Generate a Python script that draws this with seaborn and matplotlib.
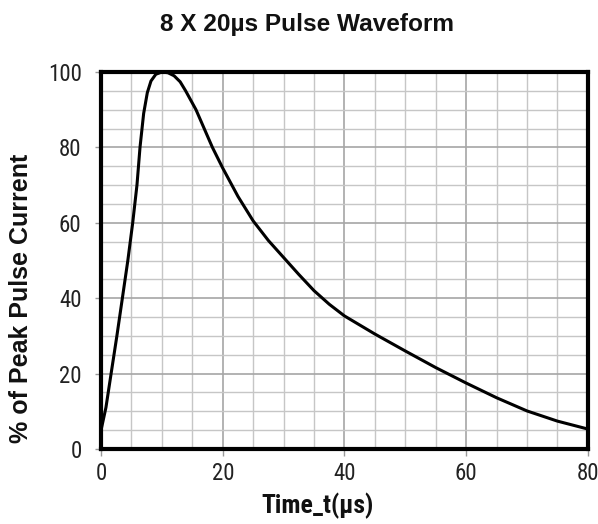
import matplotlib
matplotlib.use("Agg")
import matplotlib.pyplot as plt
from matplotlib.ticker import MultipleLocator
from matplotlib import font_manager as fm
import seaborn as sns
import pandas as pd

# Data
time_us = [0, 0.8, 1.65, 2.6, 3.5, 4.4, 5.2, 5.9, 6.4, 7.0, 7.6, 8.2, 9.0, 10.0,
           11.0, 12.0, 13.0, 13.9, 15.6, 18.3, 20, 22.5, 25, 27.5, 30, 32.5,
           35, 37.5, 40, 45, 50, 55, 60, 65, 70, 75, 80]
pct_peak = [5, 11, 20, 30, 40, 50, 60, 70, 80, 89, 94.5, 97.6, 99.4, 100,
            99.8, 99.0, 97.4, 95, 90, 80, 74.5, 67, 60.5, 55.3, 50.8, 46.3,
            42, 38.4, 35.3, 30.5, 26, 21.6, 17.5, 13.6, 10.1, 7.4, 5.3]
x_ticks = [0, 20, 40, 60, 80]
y_ticks = [0, 20, 40, 60, 80, 100]

title = "8 X 20\u00b5s Pulse Waveform"
xlabel = "Time_t(\u00b5s)"
ylabel = "% of Peak Pulse Current"

sns.set_theme(style="white")
plt.rcParams['font.family'] = ['Liberation Sans', 'DejaVu Sans']

# pick a narrow font if one is installed
names = {f.name for f in fm.fontManager.ttflist}
narrow_family = None
narrow_stretch = "normal"
for cand in ["Liberation Sans Narrow", "Arial Narrow", "Roboto Condensed",
             "Open Sans Condensed", "DejaVu Sans Condensed"]:
    if cand in names:
        narrow_family = cand
        break
if narrow_family is None:
    for f in fm.fontManager.ttflist:
        if f.name in ("DejaVu Sans", "Roboto", "Open Sans", "Noto Sans") and \
                str(f.stretch) in ("condensed", "semi-condensed", "75", "87.5"):
            narrow_family = f.name
            narrow_stretch = "condensed"
            break
if narrow_family is None:
    narrow_family = "Liberation Sans"
    tick_size = 14.5
else:
    tick_size = 16.5

df = pd.DataFrame({"t": time_us, "v": pct_peak})

fig = plt.figure(figsize=(5.98, 5.24), dpi=100)
ax = fig.add_axes([0.169, 0.1431, 0.814, 0.7195])

sns.lineplot(data=df, x="t", y="v", ax=ax, color="black", linewidth=2.2,
             estimator=None, sort=False, zorder=5)

ax.set_xlim(0, 80)
ax.set_ylim(0, 100)
ax.set_xticks(x_ticks)
ax.set_yticks(y_ticks)
ax.xaxis.set_minor_locator(MultipleLocator(5))
ax.yaxis.set_minor_locator(MultipleLocator(5))
ax.grid(which="minor", color="#c6c6c6", linewidth=1.0)
ax.grid(which="major", color="#a6a6a6", linewidth=1.2)
ax.set_axisbelow(True)

ax.tick_params(which="minor", length=0)
ax.tick_params(axis="x", which="major", length=5, width=1, color="#999999",
               pad=4, labelsize=tick_size, labelcolor="#222222",
               direction="out", bottom=True)
ax.tick_params(axis="y", which="major", length=4, width=1, color="#999999",
               pad=10, labelsize=tick_size, labelcolor="#222222",
               direction="out", left=True)
for lab in ax.get_xticklabels() + ax.get_yticklabels():
    lab.set_family([narrow_family, "DejaVu Sans"])
    lab.set_stretch(narrow_stretch)

for s in ax.spines.values():
    s.set_visible(True)
    s.set_color("black")
    s.set_linewidth(3)

ax.set_xlabel(xlabel, fontsize=18.5 if narrow_family != "Liberation Sans" else 17,
              fontweight="bold", family=[narrow_family, "DejaVu Sans"],
              fontstretch=narrow_stretch, color="#111111")
ax.xaxis.set_label_coords(0.445, -0.115)
ax.set_ylabel(ylabel, fontsize=18, fontweight="bold", color="#111111")
ax.yaxis.set_label_coords(-0.14, 0.40)

fig.suptitle(title, x=0.514, y=0.975, fontsize=17.6, fontweight="bold",
             color="#111111", va="top")

fig.savefig("out.png", dpi=100, facecolor="white")
